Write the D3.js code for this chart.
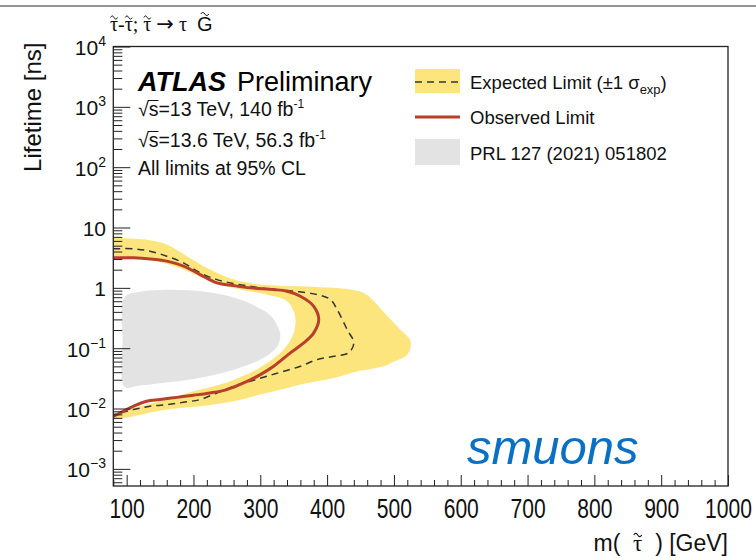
<!DOCTYPE html>
<html>
<head>
<meta charset="utf-8">
<script src="https://cdn.jsdelivr.net/npm/d3@7"></script>
<style>
  body { margin: 0; background: #fff; }
  svg { display: block; }
  text { font-family: "Liberation Sans", Arial, Helvetica, sans-serif; }
</style>
</head>
<body>
<svg id="chart" width="756" height="560"></svg>
<script>
// ---- data: stau mass [GeV] vs. lifetime [ns] ----
const massRange = [80, 1000];
const lifetimeRange = [5.2e-4, 1e4];
const massTicks = [100, 200, 300, 400, 500, 600, 700, 800, 900, 1000];
const lifetimeDecades = [-3, -2, -1, 0, 1, 2, 3, 4];

// expected limit, +1 sigma edge of the band (widest reach)
const bandUpper = [
  [80, 6.75], [110, 6.5], [135, 6.17], [160, 5.22], [190, 3.35], [225, 2.01],
  [260, 1.37], [300, 1.14], [360, 1.06], [435, 0.94], [455, 0.82], [470, 0.60],
  [490, 0.34], [510, 0.20], [525, 0.13], [520, 0.078], [500, 0.060], [485, 0.050],
  [440, 0.040], [410, 0.032], [360, 0.025], [335, 0.021], [300, 0.017], [260, 0.0132],
  [210, 0.0109], [160, 0.0096], [110, 0.0074], [80, 0.0065]
];
// expected limit, -1 sigma edge of the band
const bandLower = [
  [80, 3.35], [135, 2.94], [185, 2.01], [225, 1.29], [270, 0.94], [310, 0.77],
  [340, 0.60], [352, 0.34], [350, 0.179], [335, 0.095], [300, 0.048], [250, 0.027],
  [200, 0.0193], [160, 0.0141], [110, 0.0102], [80, 0.0079]
];
// expected limit (median)
const expectedLimit = [
  [80, 4.44], [110, 4.44], [135, 4.05], [160, 3.35], [185, 2.59], [210, 1.77],
  [235, 1.37], [260, 1.18], [285, 1.06], [310, 0.962], [350, 0.879], [385, 0.774],
  [405, 0.640], [415, 0.437], [430, 0.203], [440, 0.122], [432, 0.0836], [410, 0.0735],
  [385, 0.0647], [360, 0.0501], [335, 0.0414], [310, 0.0343], [285, 0.0283], [260, 0.0234],
  [235, 0.0181], [210, 0.0141], [185, 0.0127], [160, 0.0116], [135, 0.0109], [110, 0.0096],
  [80, 0.0079]
];
// observed limit
const observedLimit = [
  [80, 3.14], [110, 3.14], [135, 3.02], [160, 2.77], [185, 2.29], [210, 1.66],
  [235, 1.21], [260, 1.09], [285, 1.00], [320, 0.937], [340, 0.879], [360, 0.726],
  [380, 0.495], [387.5, 0.298], [380, 0.179], [365, 0.122], [345, 0.0836], [320, 0.0501],
  [300, 0.0365], [275, 0.0265], [250, 0.0206], [225, 0.0181], [200, 0.0166], [175, 0.0153],
  [150, 0.0141], [130, 0.0132], [110, 0.0109], [80, 0.0074]
];
// previous result, PRL 127 (2021) 051802
const prlExcluded = [
  [97, 0.70], [120, 0.86], [160, 0.93], [200, 0.90], [240, 0.78], [270, 0.64],
  [295, 0.48], [315, 0.35], [325, 0.24], [330, 0.17], [326, 0.11], [310, 0.075],
  [280, 0.052], [240, 0.038], [200, 0.031], [160, 0.027], [120, 0.024], [97, 0.023],
  [94, 0.13]
];

const legendLabels = ["Expected Limit (\u00B11 \u03C3", "Observed Limit", "PRL 127 (2021) 051802"];
const infoLines = ["\u221As=13 TeV, 140 fb", "\u221As=13.6 TeV, 56.3 fb", "All limits at 95% CL"];

// ---- layout ----
const W = 756, H = 560;
const M = { left: 113.3, right: 728, top: 46.5, bottom: 486 };
const colors = { band: "#fde57e", observed: "#b8402a", prl: "#e3e3e3", expected: "#333", axis: "#222", text: "#111" };
const serif = "Liberation Serif, DejaVu Serif, serif";

const svg = d3.select("#chart");
const x = d3.scaleLinear().domain(massRange).range([M.left, M.right]);
const y = d3.scaleLog().domain(lifetimeRange).range([M.bottom, M.top]);

// draws a small tilde accent centred over character i of a text element
function tilde(textSel, i, width, lift, sw) {
  const b = textSel.node().getExtentOfChar(i);
  const cx = b.x + b.width / 2, ty = b.y + lift;
  svg.append("path")
    .attr("d", `M${cx - width / 2},${ty + 1} q${width / 4},-3.2 ${width / 2},0 t${width / 2},0`)
    .attr("fill", "none").attr("stroke", colors.text).attr("stroke-width", sw || 1);
}

// page rule across the top
svg.append("line").attr("x1", 0).attr("x2", W).attr("y1", 6).attr("y2", 6)
  .attr("stroke", "#707070").attr("stroke-width", 1.6);

svg.append("defs").append("clipPath").attr("id", "plotArea")
  .append("rect").attr("x", M.left).attr("y", M.top)
  .attr("width", M.right - M.left).attr("height", M.bottom - M.top);

const plot = svg.append("g").attr("clip-path", "url(#plotArea)");
const curve = d3.line().x(d => x(d[0])).y(d => y(d[1])).curve(d3.curveCatmullRom.alpha(0.5));
const closedCurve = d3.line().x(d => x(d[0])).y(d => y(d[1])).curve(d3.curveCatmullRomClosed.alpha(0.5));

plot.append("path").attr("d", closedCurve(prlExcluded)).attr("fill", colors.prl);

const bandPath = curve(bandUpper) + "L" + curve(bandLower.slice().reverse()).slice(1) + "Z";
plot.append("path").attr("d", bandPath).attr("fill", colors.band);

plot.append("path").attr("d", curve(expectedLimit)).attr("fill", "none")
  .attr("stroke", colors.expected).attr("stroke-width", 1.5).attr("stroke-dasharray", "7,5");
plot.append("path").attr("d", curve(observedLimit)).attr("fill", "none")
  .attr("stroke", colors.observed).attr("stroke-width", 3);

// ---- axes ----
const xMinor = d3.range(massRange[0], massRange[1] + 1, 20).filter(v => v % 100 !== 0);
const yMinor = [];
for (let d = -4; d < 4; d++) for (let k = 2; k <= 9; k++) {
  const v = k * Math.pow(10, d);
  if (v >= lifetimeRange[0] && v <= lifetimeRange[1]) yMinor.push(v);
}

const xAxis = svg.append("g").attr("transform", `translate(0,${M.bottom})`)
  .call(d3.axisBottom(x).tickValues(massTicks).tickSize(-11).tickPadding(13).tickFormat(d3.format("d")));
svg.append("g").attr("transform", `translate(0,${M.bottom})`)
  .call(d3.axisBottom(x).tickValues(xMinor).tickSize(-6).tickFormat(""));
svg.append("g").attr("transform", `translate(${M.left},0)`)
  .call(d3.axisLeft(y).tickValues(lifetimeDecades.map(d => Math.pow(10, d))).tickSize(-17).tickFormat(""));
svg.append("g").attr("transform", `translate(${M.left},0)`)
  .call(d3.axisLeft(y).tickValues(yMinor).tickSize(-9).tickFormat(""));

svg.selectAll(".domain").remove();
svg.selectAll(".tick line").attr("stroke", colors.axis).attr("stroke-width", 1);
xAxis.selectAll(".tick text")
  .attr("font-size", 27).attr("fill", colors.text)
  .attr("transform", "scale(0.78,1)");

// decade labels: 1, 10 and 10^n
lifetimeDecades.forEach(d => {
  const t = svg.append("text").attr("x", 106).attr("y", y(Math.pow(10, d)) + 8.5)
    .attr("text-anchor", "end").attr("font-size", 21).attr("fill", colors.text);
  if (d === 0) t.text("1");
  else if (d === 1) t.text("10");
  else {
    t.append("tspan").text("10");
    t.append("tspan").attr("font-size", 14).attr("dy", -9).text(d < 0 ? "\u2212" + (-d) : String(d));
  }
});

svg.append("rect").attr("x", M.left).attr("y", M.top)
  .attr("width", M.right - M.left).attr("height", M.bottom - M.top)
  .attr("fill", "none").attr("stroke", colors.axis).attr("stroke-width", 1.3);

// axis titles
const xTitle = svg.append("text").attr("x", M.right).attr("y", 551)
  .attr("text-anchor", "end").attr("font-size", 23).attr("fill", colors.text)
  .attr("xml:space", "preserve");
xTitle.append("tspan").text("m(  ");
xTitle.append("tspan").attr("font-family", serif).text("\u03C4");
xTitle.append("tspan").text("  ) [GeV]");
tilde(xTitle, 4, 8, 3, 1.1);

svg.append("text").attr("transform", `translate(41,${M.top - 4}) rotate(-90)`)
  .attr("text-anchor", "end").attr("font-size", 24).attr("fill", colors.text).text("Lifetime [ns]");

// process label above the frame
const proc = svg.append("text").attr("x", 110).attr("y", 31).attr("font-size", 20)
  .attr("fill", colors.text).attr("xml:space", "preserve");
proc.append("tspan").attr("font-family", serif).text("\u03C4-\u03C4; \u03C4 ");
proc.append("tspan").attr("font-family", "DejaVu Sans").attr("font-size", 21).text("\u2192");
proc.append("tspan").attr("font-family", serif).text(" \u03C4  ");
proc.append("tspan").text("G");
[0, 2, 5].forEach(i => tilde(proc, i, 7, 3.5, 1));
tilde(proc, 12, 8, 0, 1);

// ATLAS label and run conditions
const atlas = svg.append("text").attr("x", 138).attr("y", 91).attr("font-size", 27).attr("fill", "#000");
atlas.append("tspan").attr("font-weight", "bold").attr("font-style", "italic").text("ATLAS");
atlas.append("tspan").attr("x", 237).text("Preliminary");

infoLines.forEach((s, i) => {
  const t = svg.append("text").attr("x", 138).attr("y", [116, 147, 175][i])
    .attr("font-size", 19.5).attr("fill", colors.text).text(s);
  if (i < 2) {
    t.append("tspan").attr("font-size", 12).attr("dy", -8).text("-1");
    // bar of the square root over "s"
    const r = t.node().getExtentOfChar(0), sb = t.node().getExtentOfChar(1);
    svg.append("line").attr("x1", r.x + r.width - 1).attr("x2", sb.x + sb.width)
      .attr("y1", r.y + 2.5).attr("y2", r.y + 2.5).attr("stroke", colors.text).attr("stroke-width", 1);
  }
});

// legend
const lg = svg.append("g");
lg.append("rect").attr("x", 415).attr("y", 69).attr("width", 45).attr("height", 24).attr("fill", colors.band);
lg.append("line").attr("x1", 415).attr("x2", 460).attr("y1", 82).attr("y2", 82)
  .attr("stroke", colors.expected).attr("stroke-width", 1.5).attr("stroke-dasharray", "7,5");
lg.append("line").attr("x1", 415).attr("x2", 460).attr("y1", 117).attr("y2", 117)
  .attr("stroke", colors.observed).attr("stroke-width", 3);
lg.append("rect").attr("x", 415).attr("y", 139).attr("width", 45).attr("height", 26).attr("fill", colors.prl);

const e = lg.append("text").attr("x", 470).attr("y", 89).attr("font-size", 18.5).attr("fill", colors.text).text(legendLabels[0]);
e.append("tspan").attr("font-size", 13).attr("dy", 5).text("exp");
e.append("tspan").attr("dy", -5).text(")");
lg.append("text").attr("x", 470).attr("y", 124).attr("font-size", 18.5).attr("fill", colors.text).text(legendLabels[1]);
lg.append("text").attr("x", 470).attr("y", 160).attr("font-size", 18.5).attr("fill", colors.text).text(legendLabels[2]);

// channel tag
svg.append("text").attr("x", 467).attr("y", 464).attr("font-size", 49).attr("font-style", "italic")
  .attr("fill", "#0a70c4").text("smuons");
</script>
</body>
</html>
